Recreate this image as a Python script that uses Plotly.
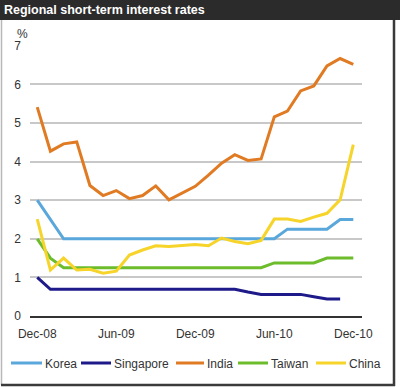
import plotly.graph_objects as go

months = ["Dec-08", "Jan-09", "Feb-09", "Mar-09", "Apr-09", "May-09", "Jun-09", "Jul-09",
          "Aug-09", "Sep-09", "Oct-09", "Nov-09", "Dec-09", "Jan-10", "Feb-10", "Mar-10",
          "Apr-10", "May-10", "Jun-10", "Jul-10", "Aug-10", "Sep-10", "Oct-10", "Nov-10", "Dec-10"]

korea = [3.0, 2.5, 2.0, 2.0, 2.0, 2.0, 2.0, 2.0, 2.0, 2.0, 2.0, 2.0, 2.0, 2.0, 2.0, 2.0,
         2.0, 2.0, 2.0, 2.25, 2.25, 2.25, 2.25, 2.5, 2.5]
singapore = [1.0, 0.69, 0.69, 0.69, 0.69, 0.69, 0.69, 0.69, 0.69, 0.69, 0.69, 0.69, 0.69,
             0.69, 0.69, 0.69, 0.62, 0.56, 0.56, 0.56, 0.56, 0.5, 0.44, 0.44, None]
india = [5.41, 4.27, 4.46, 4.51, 3.38, 3.12, 3.25, 3.04, 3.12, 3.37, 3.01, 3.18, 3.36,
         3.65, 3.96, 4.18, 4.03, 4.07, 5.16, 5.31, 5.83, 5.96, 6.48, 6.67, 6.52]
taiwan = [2.0, 1.5, 1.25, 1.25, 1.25, 1.25, 1.25, 1.25, 1.25, 1.25, 1.25, 1.25, 1.25,
          1.25, 1.25, 1.25, 1.25, 1.25, 1.375, 1.375, 1.375, 1.375, 1.5, 1.5, 1.5]
china = [2.51, 1.19, 1.50, 1.19, 1.21, 1.11, 1.16, 1.58, 1.71, 1.82, 1.80, 1.82, 1.85,
         1.82, 2.02, 1.93, 1.87, 1.96, 2.51, 2.51, 2.45, 2.56, 2.66, 3.01, 4.44]

series_names = ["Korea", "Singapore", "India", "Taiwan", "China"]
series_values = [korea, singapore, india, taiwan, china]
colors = ["#5aa7dc", "#1f1a8a", "#e07b24", "#6cbc2c", "#f6d42a"]

x_ticks = ["Dec-08", "Jun-09", "Dec-09", "Jun-10", "Dec-10"]
y_ticks = [0, 1, 2, 3, 4, 5, 6, 7]

W, H = 400, 387
L, R, T, B = 30, 38, 45, 71
PW, PH = W - L - R, H - T - B


def px(x):
    return (x - L) / PW


def py(y):
    return (H - B - y) / PH


fig = go.Figure()
for name, vals, col in zip(series_names, series_values, colors):
    fig.add_trace(go.Scatter(x=months, y=vals, name=name, mode="lines",
                             line=dict(color=col, width=3), showlegend=False,
                             connectgaps=False))

shapes = []
annotations = []
# title bar
shapes.append(dict(type="rect", xref="paper", yref="paper", x0=px(0), x1=px(400),
                   y0=py(20), y1=py(0), fillcolor="#2b2b2b", line=dict(width=0), layer="below"))
annotations.append(dict(xref="paper", yref="paper", x=px(2), y=py(10), xanchor="left",
                        yanchor="middle", showarrow=False, text="<b>Regional short-term interest rates</b>",
                        font=dict(family="Liberation Sans, Arial", size=12.5, color="white")))
# frame
shapes.append(dict(type="line", xref="paper", yref="paper", x0=px(1.5), x1=px(1.5), y0=py(20), y1=py(385),
                   line=dict(color="#b8b8b8", width=1.5)))
shapes.append(dict(type="line", xref="paper", yref="paper", x0=px(394), x1=px(394), y0=py(20), y1=py(386),
                   line=dict(color="#3a3a3a", width=2.5)))
shapes.append(dict(type="line", xref="paper", yref="paper", x0=px(1), x1=px(395), y0=py(385), y1=py(385),
                   line=dict(color="#3a3a3a", width=2.5)))
# % label
annotations.append(dict(xref="paper", yref="paper", x=px(22), y=py(34), xanchor="center",
                        yanchor="middle", showarrow=False, text="%",
                        font=dict(family="Liberation Sans, Arial", size=12, color="#333333")))
# manual legend
leg = [(11, 42), (81, 111), (176, 204), (238, 268), (316, 346)]
for (x0, x1), name, col in zip(leg, series_names, colors):
    shapes.append(dict(type="line", xref="paper", yref="paper", x0=px(x0), x1=px(x1),
                       y0=py(363), y1=py(363), line=dict(color=col, width=3)))
    annotations.append(dict(xref="paper", yref="paper", x=px(x1 + 0.5), y=py(363.5), xanchor="left",
                            yanchor="middle", showarrow=False, text=name,
                            font=dict(family="Liberation Sans, Arial", size=12, color="#333333")))

fig.update_layout(
    width=W, height=H,
    margin=dict(l=L, r=R, t=T, b=B),
    paper_bgcolor="white", plot_bgcolor="white",
    shapes=shapes, annotations=annotations,
    font=dict(family="Liberation Sans, Arial", size=12, color="#333333"),
    xaxis=dict(type="category", categoryorder="array", categoryarray=months,
               range=[-0.55, 24.66], tickvals=x_ticks, ticktext=x_ticks,
               showgrid=False, zeroline=False, ticks="", showline=True,
               linecolor="#333333", linewidth=2, ticklabelstandoff=6,
               tickfont=dict(size=12, color="#333333")),
    yaxis=dict(range=[0, 7.02], tickvals=y_ticks, showgrid=True, gridcolor="#c8c8c8",
               gridwidth=1.5, zeroline=False, ticks="", ticklabelstandoff=8,
               tickfont=dict(size=12, color="#333333")),
)

fig.write_html("out.html", config={"displayModeBar": False},
               post_script="document.body.style.margin='0';")
